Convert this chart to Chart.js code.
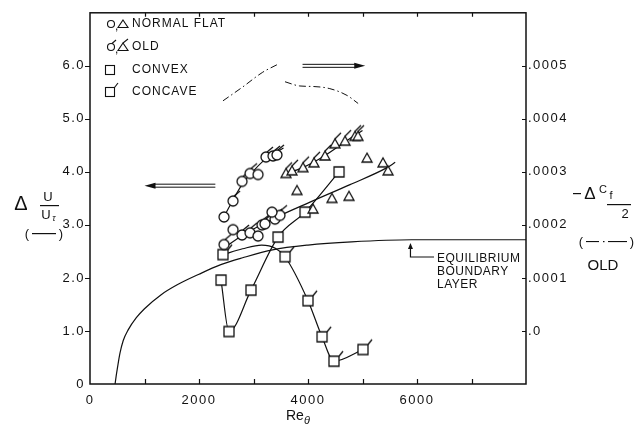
<!DOCTYPE html>
<html><head><meta charset="utf-8">
<script src="https://cdn.jsdelivr.net/npm/chart.js@4.4.1/dist/chart.umd.min.js"></script>
<style>html,body{margin:0;padding:0;background:#fff}#wrap{width:641px;height:429px;position:relative}</style>
</head><body><div id="wrap"><canvas id="c"></canvas></div>
<script>
// ---- axes / tick labels ----
const xTickValues = [0,1000,2000,3000,4000,5000,6000,7000,8000];
const xTickLabels = ['0','','2000','','4000','','6000','',''];
const yTickValues = [0,1,2,3,4,5,6,7];
const yTickLabels = ['0','1.0','2.0','3.0','4.0','5.0','6.0',''];
const y2TickValues = [-0.0001,0,0.0001,0.0002,0.0003,0.0004,0.0005,0.0006];
const y2TickLabels = ['','.0','.0001','.0002','.0003','.0004','.0005',''];

// ---- data (Re_theta, dU/U_tau) ----
const flatCircleX = [2459,3083,2624,3083,3339];
const flatCircleY = [3.15,3.95,2.91,2.79,3.24];
const oldCircleX = [2624,2789,2936,3229,3358,3431,2459,2789,2936,3156,3211,3394,3486];
const oldCircleY = [3.45,3.82,3.97,4.28,4.30,4.32,2.63,2.81,2.85,3.00,3.02,3.11,3.18];
const flatTriangleX = [3798,4092,4440,4752,5083,5376,5468];
const flatTriangleY = [3.65,3.30,3.50,3.54,4.26,4.17,4.02];
const oldTriangleX = [3596,3706,3908,4110,4312,4495,4679,4862,4917];
const oldTriangleY = [3.97,4.02,4.08,4.17,4.30,4.53,4.58,4.67,4.67];
const convexX = [2404,2550,2954,3450,3945,4569];
const convexY = [1.96,0.99,1.77,2.77,3.24,4.00];
const concaveX = [2440,3578,4000,4257,4477,5009];
const concaveY = [2.44,2.40,1.57,0.89,0.43,0.65];

// faired curves
const fitCircleUpperX = [2420,2624,2800,3000,3229,3550];
const fitCircleUpperY = [3.08,3.47,3.78,4.02,4.25,4.45];
const fitLowerX = [2440,2807,3431,4037,4771,5450,5600];
const fitLowerY = [2.55,2.81,3.15,3.43,3.76,4.08,4.18];
const fitTriangleX = [3540,3900,4300,4700,5000];
const fitTriangleY = [3.95,4.08,4.30,4.58,4.78];
const concaveCurveX = [2440,2800,3150,3400,3578,4000,4257,4477,5009];
const concaveCurveY = [2.44,2.55,2.62,2.56,2.40,1.57,0.89,0.43,0.65];
const equilibriumX = [460,480,500,550,610,700,850,1000,1300,1600,2000,2400,2800,3350,4000,4800,5900,8000];
const equilibriumY = [0,0.15,0.28,0.58,0.82,1.02,1.25,1.42,1.68,1.87,2.07,2.25,2.38,2.53,2.62,2.68,2.72,2.72];

// -dCf/2 (OLD), right axis
const cfOldAX = [2440,2800,3170,3430];
const cfOldAY = [0.000434,0.000460,0.000488,0.000502];
const cfOldBX = [3578,3850,4100,4400,4720,4920];
const cfOldBY = [0.000470,0.000462,0.000461,0.000457,0.000444,0.000429];

const pts = (xs, ys) => xs.map((x, i) => ({x, y: ys[i]}));
const INK = '#111';

function makeMarker(kind, flag) {
  const c = document.createElement('canvas');
  c.width = 26; c.height = 26;
  const g = c.getContext('2d');
  const cx = 13, cy = 13;
  g.lineWidth = 1.3; g.strokeStyle = INK; g.fillStyle = '#fff';
  g.beginPath();
  if (kind === 'circle') g.arc(cx, cy, 5, 0, Math.PI * 2);
  else if (kind === 'triangle') { g.moveTo(cx, cy - 5); g.lineTo(cx + 5, cy + 4); g.lineTo(cx - 5, cy + 4); g.closePath(); }
  else g.rect(cx - 5, cy - 5, 10, 10);
  g.fill(); g.stroke();
  if (flag) {
    g.beginPath();
    if (kind === 'circle') { g.moveTo(cx + 1, cy - 5); g.lineTo(cx + 7, cy - 10); }
    else if (kind === 'triangle') { g.moveTo(cx, cy - 5); g.lineTo(cx + 6, cy - 11); }
    else { g.moveTo(cx + 5, cy - 5); g.lineTo(cx + 9, cy - 10); }
    g.stroke();
  }
  return c;
}

const markerSet = (label, xs, ys, img) => ({
  label, data: pts(xs, ys), showLine: false, order: 0,
  pointStyle: img, pointRadius: 5, pointHoverRadius: 5, yAxisID: 'y'
});
const curve = (label, xs, ys, extra) => Object.assign({
  label, data: pts(xs, ys), showLine: true, order: 1, pointRadius: 0,
  borderColor: INK, borderWidth: 1.2, cubicInterpolationMode: 'monotone', fill: false, yAxisID: 'y'
}, extra || {});

const tickFont = {family: 'Liberation Sans', size: 13};

const deco = {
  id: 'deco',
  beforeDraw(chart) { chart.ctx.letterSpacing = '1.5px'; },
  afterDraw(chart) {
    const ctx = chart.ctx, a = chart.chartArea;
    const sx = chart.scales.x, sy = chart.scales.y, sy2 = chart.scales.y2;
    ctx.save();
    ctx.letterSpacing = '0px';
    ctx.strokeStyle = INK; ctx.fillStyle = INK;
    // frame
    ctx.lineWidth = 1.5;
    ctx.strokeRect(a.left, a.top, a.right - a.left, a.bottom - a.top);
    // ticks
    ctx.lineWidth = 1.2;
    ctx.beginPath();
    xTickValues.forEach(v => {
      if (v <= sx.min || v >= sx.max) return;
      const px = Math.round(sx.getPixelForValue(v)) + 0.5;
      ctx.moveTo(px, a.bottom); ctx.lineTo(px, a.bottom - 5);
      ctx.moveTo(px, a.top); ctx.lineTo(px, a.top + 4);
    });
    yTickValues.forEach((v, i) => {
      if (!yTickLabels[i] || v === 0) return;
      const py = Math.round(sy.getPixelForValue(v)) + 0.5;
      ctx.moveTo(a.left - 5, py); ctx.lineTo(a.left, py);
    });
    y2TickValues.forEach((v, i) => {
      if (!y2TickLabels[i]) return;
      const py = Math.round(sy2.getPixelForValue(v)) + 0.5;
      ctx.moveTo(a.right - 4, py); ctx.lineTo(a.right, py);
    });
    ctx.stroke();

    // left axis title: ΔU/Uτ (—)
    ctx.textBaseline = 'alphabetic'; ctx.textAlign = 'center';
    ctx.font = '20px Liberation Sans'; ctx.fillText('Δ', 21, 210);
    ctx.font = '13px Liberation Sans';
    ctx.fillText('U', 48, 201);
    ctx.fillRect(40, 205, 19, 1.2);
    ctx.fillText('U', 46, 219);
    ctx.font = 'italic 9px Liberation Sans'; ctx.fillText('τ', 54, 221);
    ctx.font = '13px Liberation Sans'; ctx.fillText('(', 27, 238); ctx.fillText(')', 61, 238);
    ctx.fillRect(32, 233, 24, 1.2);

    // right axis title: -ΔCf/2 (-·-) OLD
    ctx.fillRect(573, 193, 8, 1.2);
    ctx.font = '17px Liberation Sans'; ctx.fillText('Δ', 590, 199);
    ctx.font = '11px Liberation Sans'; ctx.fillText('C', 603, 193);
    ctx.font = '11px Liberation Sans'; ctx.fillText('f', 611, 199);
    ctx.fillRect(607, 204, 24, 1.2);
    ctx.font = '13px Liberation Sans'; ctx.fillText('2', 625, 218);
    ctx.fillText('(', 581, 246); ctx.fillText(')', 632, 246);
    ctx.fillRect(586, 241, 13, 1.1); ctx.fillRect(603, 241, 1.5, 1.2); ctx.fillRect(608, 241, 19, 1.1);
    ctx.font = '15px Liberation Sans'; ctx.fillText('OLD', 603, 270);

    // x axis title Reθ
    ctx.textAlign = 'left';
    ctx.font = '14px Liberation Sans'; ctx.fillText('Re', 286, 420);
    ctx.font = 'italic 11px Liberation Sans'; ctx.fillText('θ', 304, 424);

    // legend
    ctx.letterSpacing = '1px';
    ctx.font = '12px Liberation Sans';
    ctx.textBaseline = 'middle';
    const legendRows = [[24, 'NORMAL FLAT'], [47, 'OLD'], [70, 'CONVEX'], [92, 'CONCAVE']];
    legendRows.forEach(r => ctx.fillText(r[1], 132, r[0]));
    ctx.letterSpacing = '0px';
    ctx.lineWidth = 1.1;
    const lc = (x, y, flag) => { ctx.beginPath(); ctx.arc(x, y, 3.5, 0, Math.PI * 2); ctx.stroke(); if (flag) { ctx.beginPath(); ctx.moveTo(x + 1, y - 3.5); ctx.lineTo(x + 5, y - 7); ctx.stroke(); } };
    const lt = (x, y, flag) => { ctx.beginPath(); ctx.moveTo(x, y - 4); ctx.lineTo(x + 5, y + 3.5); ctx.lineTo(x - 5, y + 3.5); ctx.closePath(); ctx.stroke(); if (flag) { ctx.beginPath(); ctx.moveTo(x, y - 4); ctx.lineTo(x + 5, y - 8); ctx.stroke(); } };
    const ls = (x, y, flag) => { ctx.strokeRect(x - 4.5, y - 4.5, 9, 9); if (flag) { ctx.beginPath(); ctx.moveTo(x + 4.5, y - 4.5); ctx.lineTo(x + 8, y - 9); ctx.stroke(); } };
    lc(111, 24, false); ctx.font = '12px Liberation Sans'; ctx.fillText(',', 115, 27); lt(123, 24, false);
    lc(111, 47, true); ctx.fillText(',', 115, 50); lt(123, 47, true);
    ls(110, 70, false);
    ls(110, 92, true);

    // direction arrows
    const arrow = (x1, x2, y, dir) => {
      ctx.lineWidth = 1;
      const head = 11;
      ctx.beginPath();
      if (dir < 0) { ctx.moveTo(x1 + head - 2, y - 1.5); ctx.lineTo(x2, y - 1.5); ctx.moveTo(x1 + head - 2, y + 1.5); ctx.lineTo(x2, y + 1.5); }
      else { ctx.moveTo(x1, y - 1.5); ctx.lineTo(x2 - head + 2, y - 1.5); ctx.moveTo(x1, y + 1.5); ctx.lineTo(x2 - head + 2, y + 1.5); }
      ctx.stroke();
      ctx.beginPath();
      if (dir < 0) { ctx.moveTo(x1, y); ctx.lineTo(x1 + head, y - 3); ctx.lineTo(x1 + head, y + 3); }
      else { ctx.moveTo(x2, y); ctx.lineTo(x2 - head, y - 3); ctx.lineTo(x2 - head, y + 3); }
      ctx.closePath(); ctx.fill();
    };
    arrow(sx.getPixelForValue(1000), sx.getPixelForValue(2300), sy.getPixelForValue(3.74), -1);
    arrow(sx.getPixelForValue(3900), sx.getPixelForValue(5050), sy.getPixelForValue(6.0), 1);

    // equilibrium boundary layer pointer
    const px = sx.getPixelForValue(5880), tipY = sy.getPixelForValue(2.66), elbowY = 257;
    ctx.lineWidth = 1.2;
    ctx.beginPath(); ctx.moveTo(px, tipY + 4); ctx.lineTo(px, elbowY); ctx.lineTo(434, elbowY); ctx.stroke();
    ctx.beginPath(); ctx.moveTo(px, tipY); ctx.lineTo(px - 2.5, tipY + 6); ctx.lineTo(px + 2.5, tipY + 6); ctx.closePath(); ctx.fill();
    ctx.letterSpacing = '0.5px';
    ctx.font = '12px Liberation Sans'; ctx.textBaseline = 'alphabetic';
    ctx.fillText('EQUILIBRIUM', 437, 262);
    ctx.fillText('BOUNDARY', 437, 275);
    ctx.fillText('LAYER', 437, 288);
    ctx.restore();
  }
};

new Chart(document.getElementById('c'), {
  type: 'scatter',
  data: {
    datasets: [
      markerSet('Normal flat (circles)', flatCircleX, flatCircleY, makeMarker('circle', false)),
      markerSet('Old (circles)', oldCircleX, oldCircleY, makeMarker('circle', true)),
      markerSet('Normal flat (triangles)', flatTriangleX, flatTriangleY, makeMarker('triangle', false)),
      markerSet('Old (triangles)', oldTriangleX, oldTriangleY, makeMarker('triangle', true)),
      markerSet('Convex', convexX, convexY, makeMarker('rect', false)),
      markerSet('Concave', concaveX, concaveY, makeMarker('rect', true)),
      curve('Convex curve', convexX, convexY),
      curve('Concave curve', concaveCurveX, concaveCurveY),
      curve('Old circles fit', fitCircleUpperX, fitCircleUpperY),
      curve('Lower fit', fitLowerX, fitLowerY),
      curve('Old triangles fit', fitTriangleX, fitTriangleY),
      curve('Equilibrium boundary layer', equilibriumX, equilibriumY),
      curve('-dCf/2 OLD a', cfOldAX, cfOldAY, {yAxisID: 'y2', borderWidth: 1, borderDash: [7, 3, 1.5, 3]}),
      curve('-dCf/2 OLD b', cfOldBX, cfOldBY, {yAxisID: 'y2', borderWidth: 1, borderDash: [7, 3, 1.5, 3]})
    ]
  },
  options: {
    responsive: true, maintainAspectRatio: false, animation: false, devicePixelRatio: 1,
    layout: {padding: {top: 8, left: 0, right: 0, bottom: 0}},
    plugins: {legend: {display: false}, tooltip: {enabled: false}},
    scales: {
      x: {
        type: 'linear', position: 'bottom', min: 0, max: 8000,
        afterBuildTicks: s => { s.ticks = xTickValues.map(v => ({value: v})); },
        afterFit: s => { s.height = 45; },
        ticks: {autoSkip: false, maxRotation: 0, padding: 9, color: INK, font: tickFont,
          callback: (v) => xTickLabels[xTickValues.indexOf(v)] ?? ''},
        grid: {display: false, drawTicks: false}, border: {display: false}
      },
      y: {
        type: 'linear', position: 'left', min: 0, max: 7,
        afterBuildTicks: s => { s.ticks = yTickValues.map(v => ({value: v})); },
        afterFit: s => { s.width = 90; },
        ticks: {autoSkip: false, padding: 5, color: INK, font: tickFont,
          callback: (v) => yTickLabels[yTickValues.indexOf(v)] ?? ''},
        grid: {display: false, drawTicks: false}, border: {display: false}
      },
      y2: {
        type: 'linear', position: 'right', min: -0.0001, max: 0.0006,
        afterBuildTicks: s => { s.ticks = y2TickValues.map(v => ({value: v})); },
        afterFit: s => { s.width = 115; },
        ticks: {autoSkip: false, padding: 2, color: INK, font: tickFont,
          callback: (v) => y2TickLabels[y2TickValues.indexOf(v)] ?? ''},
        grid: {display: false, drawTicks: false}, border: {display: false}
      }
    }
  },
  plugins: [deco]
});
</script>
</body></html>
